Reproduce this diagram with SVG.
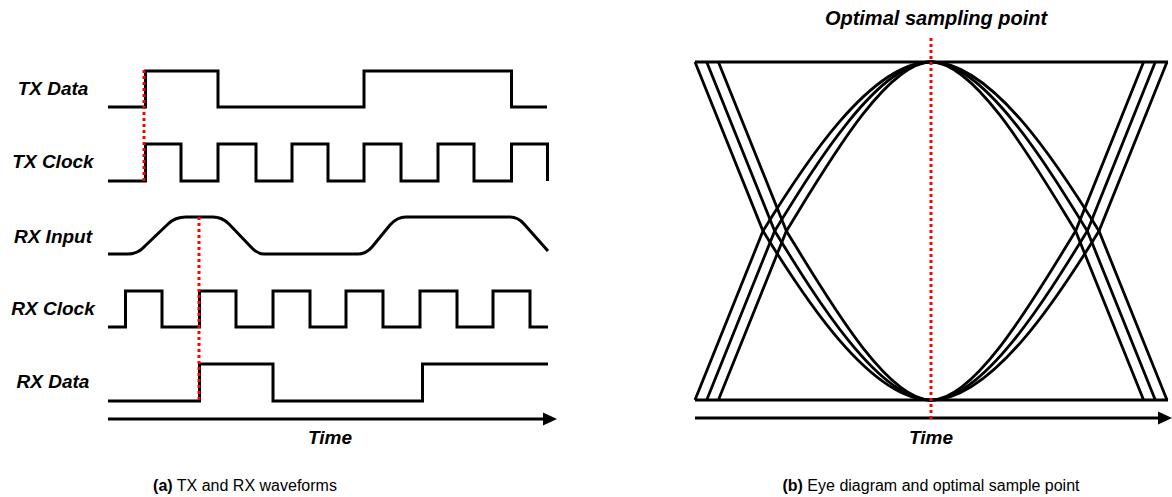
<svg xmlns="http://www.w3.org/2000/svg" width="1172" height="497" viewBox="0 0 1172 497">
<style>
.wave{fill:none;stroke:#000;stroke-width:3;stroke-linejoin:miter;stroke-linecap:butt}
.eye{fill:none;stroke:#000;stroke-width:2.8}
.axis{stroke:#000;stroke-width:3}
.red{fill:none;stroke:#f00;stroke-width:3;stroke-dasharray:3 3}
.lbl{font-family:"Liberation Sans",Arial,sans-serif;font-weight:bold;font-style:italic;font-size:19px;fill:#000;text-anchor:middle}
.cap{font-family:"Liberation Sans",Arial,sans-serif;font-size:16px;fill:#000;text-anchor:middle}
</style>
<rect width="1172" height="497" fill="#fff"/>

<g id="labels-a">
<text class="lbl" x="53" y="95">TX Data</text>
<text class="lbl" x="53" y="168">TX Clock</text>
<text class="lbl" x="53" y="243">RX Input</text>
<text class="lbl" x="53" y="315">RX Clock</text>
<text class="lbl" x="53" y="388">RX Data</text>
</g>

<g id="tx-data"><path class="wave" d="M108,107 H145.5 V71 H218 V107 H364 V71 H511.5 V107 H547"/></g>
<g id="tx-clock"><path class="wave" d="M108,181 H145.5 V144 H181 V181 H218 V144 H256 V181 H292 V144 H328 V181 H364 V144 H401 V181 H438 V144 H474 V181 H511.5 V144 H547.5 V181"/></g>
<g id="rx-input"><path class="wave" d="M108,254 H128 Q138,254 145,246 L168,224 Q175,217 186,217 H213 Q222,217 229,224 L250,246 Q257,254 264,254 H358 Q366,254 372,247 L390,225 Q397,217 406,217 H510 Q518,217 524,224 L548,251"/></g>
<g id="rx-clock"><path class="wave" d="M108,327 H125.5 V291 H162 V327 H199.5 V291 H236 V327 H273 V291 H310 V327 H346 V291 H383 V327 H420 V291 H457 V327 H493 V291 H530 V327 H548"/></g>
<g id="rx-data"><path class="wave" d="M108,401 H199.5 V364 H273 V401 H422.5 V364 H548"/></g>

<g id="axis-a">
<line class="axis" x1="108" y1="419" x2="546" y2="419"/>
<polygon points="543,412.5 557,419 543,425.5" fill="#000"/>
<text class="lbl" x="330" y="444">Time</text>
</g>

<g id="eye">
<line class="axis" x1="695" y1="62" x2="1168" y2="62"/>
<line class="axis" x1="695" y1="400" x2="1168" y2="400"/>
<path class="eye" d="M695,62 L763,231 C803,296 870,400 931,400"/>
<path class="eye" d="M706.7,62 L774.7,231 C814.7,296 878,400 931,400"/>
<path class="eye" d="M718.4,62 L786.4,231 C826.4,296 886,400 931,400"/>
<path class="eye" d="M695,400 L763,231 C803,166 870,62 931,62"/>
<path class="eye" d="M706.7,400 L774.7,231 C814.7,166 878,62 931,62"/>
<path class="eye" d="M718.4,400 L786.4,231 C826.4,166 886,62 931,62"/>
<path class="eye" d="M1167,62 L1099,231 C1059,296 992,400 931,400"/>
<path class="eye" d="M1155.3,62 L1087.3,231 C1047.3,296 984,400 931,400"/>
<path class="eye" d="M1143.6,62 L1075.6,231 C1035.6,296 976,400 931,400"/>
<path class="eye" d="M1167,400 L1099,231 C1059,166 992,62 931,62"/>
<path class="eye" d="M1155.3,400 L1087.3,231 C1047.3,166 984,62 931,62"/>
<path class="eye" d="M1143.6,400 L1075.6,231 C1035.6,166 976,62 931,62"/>
</g>

<g id="axis-b">
<line class="axis" x1="695" y1="418" x2="1160" y2="418"/>
<polygon points="1158,411.5 1172,418 1158,424.5" fill="#000"/>
<text class="lbl" x="931" y="444">Time</text>
</g>

<g id="markers">
<line class="red" x1="144" y1="70" x2="144" y2="182"/>
<line class="red" x1="199" y1="217" x2="199" y2="402"/>
<line class="red" x1="931" y1="38" x2="931" y2="420"/>
</g>

<g id="title-b"><text class="lbl" x="936" y="25" style="font-size:20px">Optimal sampling point</text></g>

<g id="captions">
<text class="cap" x="245" y="491"><tspan font-weight="bold">(a)</tspan> TX and RX waveforms</text>
<text class="cap" x="931" y="491"><tspan font-weight="bold">(b)</tspan> Eye diagram and optimal sample point</text>
</g>
</svg>
